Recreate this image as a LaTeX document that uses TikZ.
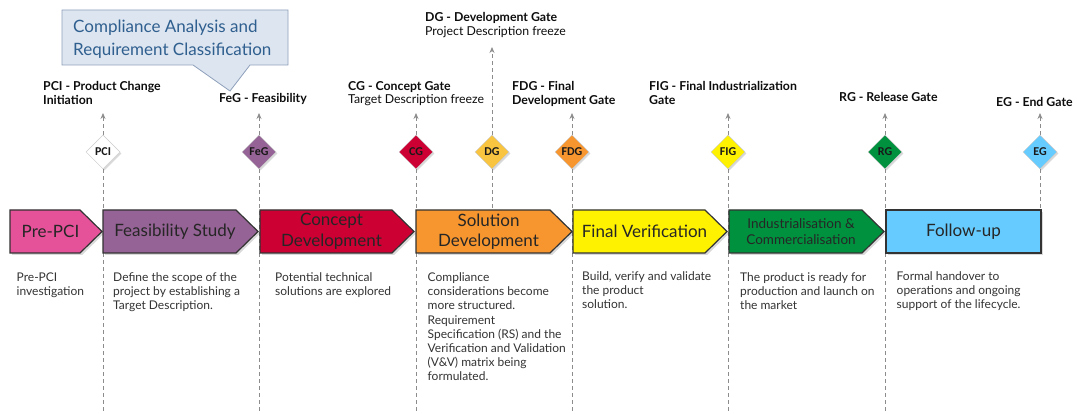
\documentclass[tikz,border=0pt]{standalone}
\usepackage{fontspec}
\setmainfont{Lato}
\newfontfamily\gatefont{Carlito}
\usetikzlibrary{shapes.geometric,shadows,arrows.meta}

\definecolor{cPink}{HTML}{E6529A}
\definecolor{cPurple}{HTML}{956395}
\definecolor{cCrimson}{HTML}{CC0033}
\definecolor{cOrange}{HTML}{F7962E}
\definecolor{cGold}{HTML}{F9C440}
\definecolor{cYellow}{HTML}{FFF200}
\definecolor{cGreen}{HTML}{00913F}
\definecolor{cSky}{HTML}{66CCFF}
\definecolor{cCallFill}{HTML}{DDE5F0}
\definecolor{cCallDraw}{HTML}{8EA0BB}
\definecolor{cCallText}{HTML}{2F5F8F}
\definecolor{cLine}{HTML}{8C8C8C}

\pgfdeclarelayer{lines}
\pgfsetlayers{lines,main}

% one chevron of the phase band: start x, tip x, fill colour
\newcommand\phasearrow[3]{%
  \filldraw[phase, fill=#3] (#1,210) -- ({#2-22},210) -- (#2,231.5)
    -- ({#2-22},253) -- (#1,253) -- cycle;}

\begin{document}
\begin{tikzpicture}[x=1pt,y=-1pt,
  gateline/.style={draw=cLine, line width=0.8pt, dash pattern=on 4pt off 3pt},
  gatearrow/.style={gateline, -{Stealth[length=6pt,width=5pt]}},
  gate/.style={diamond, minimum width=34pt, minimum height=34pt, inner sep=0pt,
    draw=black!20, line width=0.5pt, text=black!90,
    font=\gatefont\bfseries\fontsize{12}{12}\selectfont,
    drop shadow={shadow xshift=1.5pt, shadow yshift=-1.5pt, opacity=0.3}},
  phase/.style={draw=black!80, line width=1.2pt,
    drop shadow={shadow xshift=2pt, shadow yshift=-2pt, opacity=0.3}},
  phasetext/.style={align=center, inner sep=0pt, text=black!85,
    font=\fontsize{17}{20.5}\selectfont},
  gatelabel/.style={anchor=north west, inner sep=0pt, align=left, text=black!95,
    font=\fontsize{12.3}{13.8}\selectfont},
  desc/.style={anchor=north west, inner sep=0pt, align=left, text=black!80,
    font=\fontsize{12}{14.2}\selectfont},
  callout/.style={fill=cCallFill, draw=cCallDraw, line width=0.8pt}
]
\useasboundingbox (0,0) rectangle (1077,414);

% ---- callout ----
\filldraw[callout] (62,10) -- (288,10) -- (288,65) -- (250,65) -- (230,91)
  -- (193,65) -- (62,65) -- cycle;
\node[anchor=north west, inner sep=0pt, align=left, text=cCallText,
  font=\fontsize{17}{22.7}\selectfont] (callouttext) at (73,20)
  {Compliance Analysis and\\Requirement Classification};

% ---- gate diamonds ----
\node[gate, fill=white]    (pci) at (103,152) {PCI};
\node[gate, fill=cPurple]  (feg) at (259,152) {FeG};
\node[gate, fill=cCrimson] (cg)  at (416,152) {CG};
\node[gate, fill=cGold]    (dg)  at (492,152) {DG};
\node[gate, fill=cOrange]  (fdg) at (572,152) {FDG};
\node[gate, fill=cYellow]  (fig) at (728,152) {FIG};
\node[gate, fill=cGreen]   (rg)  at (885,152) {RG};
\node[gate, fill=cSky]     (eg)  at (1040,152) {EG};

% ---- line ends ----
\foreach \g/\x in {pci/103,feg/259,cg/416,fdg/572,fig/728,rg/885}{
  \coordinate (\g top) at (\x,113);
  \coordinate (\g bot) at (\x,414);
}
\coordinate (egtop) at (1040,113);
\coordinate (egbot) at (1040,211);
\coordinate (dgtop) at (492,47);
\coordinate (dgbot) at (492,211);

\begin{pgfonlayer}{lines}
  \foreach \g in {pci,feg,cg,dg,fdg,fig,rg,eg}{
    \draw[gatearrow] (\g.north) -- (\g top);
    \draw[gateline] (\g.south) -- (\g bot);
  }
\end{pgfonlayer}

% ---- phase band ----
\phasearrow{10}{102}{cPink}
\phasearrow{103}{258}{cPurple}
\phasearrow{260}{414}{cCrimson}
\phasearrow{416}{572}{cOrange}
\phasearrow{573}{727}{cYellow}
\phasearrow{729}{884}{cGreen}
\filldraw[phase, fill=cSky] (886,210) rectangle (1041,253);

\node[phasetext] (prepci)  at (50.5,231.5)  {Pre-PCI};
\node[phasetext] (feas)    at (175,231.5)   {Feasibility Study};
\node[phasetext] (concept) at (331.5,231.5) {Concept\\Development};
\node[phasetext] (solution) at (488.5,231.5) {Solution\\Development};
\node[phasetext] (finalver) at (644.5,231.5) {Final Verification};
\node[phasetext, font=\fontsize{13.5}{16}\selectfont] (indus) at (801,231.5)
  {Industrialisation \&\\Commercialisation};
\node[phasetext] (followup) at (963.5,231.5) {Follow-up};

% ---- gate labels ----
\node[gatelabel] (pcilabel) at (43,81)   {\bfseries PCI - Product Change\\\bfseries Initiation};
\node[gatelabel] (feglabel) at (219,93.5) {\bfseries FeG - Feasibility};
\node[gatelabel] (cglabel)  at (348,81)  {\bfseries CG - Concept Gate\\Target Description freeze};
\node[gatelabel] (dglabel)  at (425,12)  {\bfseries DG - Development Gate\\Project Description freeze};
\node[gatelabel] (fdglabel) at (512,81)  {\bfseries FDG - Final\\\bfseries Development Gate};
\node[gatelabel] (figlabel) at (649,81)  {\bfseries FIG - Final Industrialization\\\bfseries Gate};
\node[gatelabel] (rglabel)  at (839,92.5) {\bfseries RG - Release Gate};
\node[gatelabel] (eglabel)  at (996,97)  {\bfseries EG - End Gate};

% ---- phase descriptions ----
\node[desc] (d1) at (16.5,272.5) {Pre-PCI\\investigation};
\node[desc] (d2) at (113,272.5) {Define the scope of the\\project by establishing a\\Target Description.};
\node[desc] (d3) at (275,272.5) {Potential technical\\solutions are explored};
\node[desc] (d4) at (427.5,272.5) {Compliance\\considerations become\\more structured.\\Requirement\\Specification (RS) and the\\Verification and Validation\\(V\&V) matrix being\\formulated.};
\node[desc] (d5) at (582,271.5) {Build, verify and validate\\the product\\solution.};
\node[desc] (d6) at (740,272) {The product is ready for\\production and launch on\\the market};
\node[desc] (d7) at (896.5,271.5) {Formal handover to\\operations and ongoing\\support of the lifecycle.};
\end{tikzpicture}
\end{document}
